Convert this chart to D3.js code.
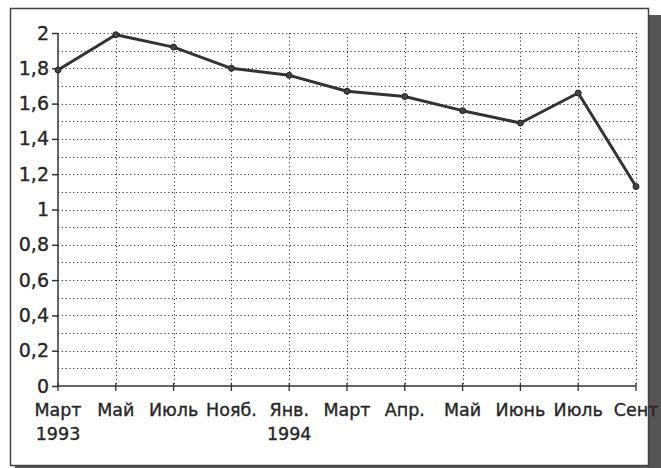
<script src="https://cdnjs.cloudflare.com/ajax/libs/d3/7.8.5/d3.min.js"></script>
<style>
    body { margin: 0; background: #fff; }
    svg { display: block; }
    .lbl { font-family: 'DejaVu Sans', sans-serif; font-size: 17.5px; fill: #262626; stroke: #262626; stroke-width: 0.35px; }
</style>
<svg width="661" height="468"></svg>
<script>
    // data
    var months = ["Март", "Май", "Июль", "Нояб.", "Янв.", "Март", "Апр.", "Май", "Июнь", "Июль", "Сент"];
    var years = ["1993", "", "", "", "1994", "", "", "", "", "", ""];
    var values = [1.79, 1.99, 1.92, 1.80, 1.76, 1.67, 1.64, 1.56, 1.49, 1.66, 1.13];
    var yTicks = [0, 0.2, 0.4, 0.6, 0.8, 1, 1.2, 1.4, 1.6, 1.8, 2];
    var yGrid = d3.range(1, 21).map(function(i) { return i / 10; });

    var svg = d3.select("svg");
    var margin = {top: 33, right: 25, bottom: 82, left: 58};
    var width = 636 - margin.left, height = 386 - margin.top;

    // frame and shadow
    svg.append("rect").attr("x", 649).attr("y", 15).attr("width", 12).attr("height", 453).attr("fill", "#555");
    svg.append("rect").attr("x", 15).attr("y", 466).attr("width", 646).attr("height", 2).attr("fill", "#555");
    svg.append("rect").attr("x", 10.5).attr("y", 8.5).attr("width", 638).attr("height", 457)
        .attr("fill", "#fff").attr("stroke", "#444").attr("stroke-width", 1.5);

    var g = svg.append("g").attr("transform", "translate(" + margin.left + "," + margin.top + ")");

    var x = d3.scalePoint().domain(d3.range(months.length)).range([0, width]);
    var y = d3.scaleLinear().domain([0, 2]).range([height, 0]);

    // dotted grid
    g.append("g").selectAll("line").data(yGrid).enter().append("line")
        .attr("x1", 0).attr("x2", width)
        .attr("y1", function(d) { return Math.round(y(d)) + 0.5; })
        .attr("y2", function(d) { return Math.round(y(d)) + 0.5; })
        .attr("stroke", "#333").attr("stroke-width", 1).attr("stroke-dasharray", "1.2,2.6");
    g.append("g").selectAll("line").data(d3.range(1, months.length)).enter().append("line")
        .attr("x1", function(d) { return Math.round(x(d)) + 0.5; })
        .attr("x2", function(d) { return Math.round(x(d)) + 0.5; })
        .attr("y1", 0).attr("y2", height)
        .attr("stroke", "#333").attr("stroke-width", 1).attr("stroke-dasharray", "1.2,2.6");

    // axes
    var yAxis = g.append("g")
        .call(d3.axisLeft(y).tickValues(yTicks).tickSize(6).tickPadding(3)
            .tickFormat(function(d) { return String(d).replace(".", ","); }));
    yAxis.selectAll("text").attr("class", "lbl").attr("font-size", null).attr("font-family", null).style("font-size", "19px");
    yAxis.selectAll("line, path").attr("stroke", "#333").attr("stroke-width", 1.5);
    yAxis.select(".domain").attr("d", "M0," + height + "V0");

    g.append("line").attr("x1", 0).attr("x2", width).attr("y1", height).attr("y2", height)
        .attr("stroke", "#333").attr("stroke-width", 1.5);
    g.append("g").selectAll("line").data(d3.range(months.length)).enter().append("line")
        .attr("x1", function(d) { return x(d); }).attr("x2", function(d) { return x(d); })
        .attr("y1", height - 3).attr("y2", height + 5)
        .attr("stroke", "#333").attr("stroke-width", 1.3);

    var xl = g.append("g").selectAll("g").data(d3.range(months.length)).enter().append("g")
        .attr("transform", function(d) { return "translate(" + x(d) + "," + (height + 30) + ")"; });
    xl.append("text").attr("class", "lbl").attr("text-anchor", "middle")
        .text(function(d) { return months[d]; });
    xl.append("text").attr("class", "lbl").attr("text-anchor", "middle").attr("y", 24)
        .text(function(d) { return years[d]; });

    // the line
    var line = d3.line().x(function(d, i) { return x(i); }).y(function(d) { return y(d); });
    g.append("path").datum(values).attr("d", line)
        .attr("fill", "none").attr("stroke", "#333").attr("stroke-width", 3).attr("stroke-linejoin", "round");
    g.append("g").selectAll("circle").data(values).enter().append("circle")
        .attr("cx", function(d, i) { return x(i); }).attr("cy", function(d) { return y(d); })
        .attr("r", 3).attr("fill", "#444").attr("stroke", "#222");
</script>
